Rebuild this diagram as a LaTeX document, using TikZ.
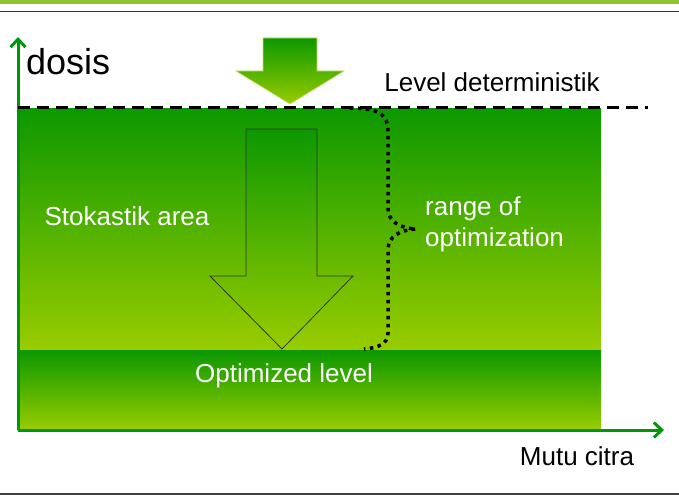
\documentclass[tikz,border=0pt]{standalone}
\usepackage{fontspec}
\setmainfont{Liberation Sans}
\usetikzlibrary{arrows.meta}
\definecolor{gtop}{RGB}{12,152,0}
\definecolor{gbot}{RGB}{153,204,0}
\definecolor{axisg}{RGB}{0,150,10}
\definecolor{band}{RGB}{146,196,50}
\tikzset{
  lbl/.style={font=\fontsize{26}{30}\selectfont, inner sep=0pt},
  wlbl/.style={lbl, text=white},
  axisline/.style={draw=axisg, line width=3pt, -{Straight Barb[length=8pt,width=15pt,line width=3pt]}},
  gradfill/.style={top color=gtop, bottom color=gbot, draw=none},
  arrowfill/.style={top color=gtop, bottom color=gbot, draw=black!80, line width=0.8pt},
}
\begin{document}
\begin{tikzpicture}[x=1pt,y=-1pt]
\useasboundingbox (0,0) rectangle (679,497);
% top and bottom rules
\fill[band] (0,0) rectangle (679,4);
\draw[black!80, line width=1pt] (0,12) -- (679,12);
\draw[black!75, line width=2pt] (0,494) -- (679,494);
% areas
\node[gradfill, minimum width=583pt, minimum height=242pt, anchor=north west, inner sep=0pt] (area) at (18,108) {};
\node[gradfill, minimum width=583pt, minimum height=80pt, anchor=north west, inner sep=0pt] (opt) at (18,350) {};
% top small arrow
\path[top color=gtop, bottom color=gbot, draw=gbot!60!white, line width=0.6pt] (263,38) -- (317,38) -- (317,71) -- (344,71) -- (290,104) -- (236,71) -- (263,71) -- cycle;
% big arrow
\path[arrowfill] (246,129) -- (317,129) -- (317,276) -- (353,276) -- (282,349) -- (210,276) -- (246,276) -- cycle;
% axes
\coordinate (O) at (18,430);
\coordinate (Ytip) at (18,37);
\coordinate (Xtip) at (664,430);
\draw[axisline] (O) -- (Ytip);
\draw[axisline] (O) -- (Xtip);
% dashed level line
\coordinate (d1) at (18,108);
\coordinate (d2) at (648,108);
\draw[black, line width=3pt, dash pattern=on 12pt off 7pt] (d1) -- (d2);
% brace
\draw[black, line width=3.5pt, dash pattern=on 3.5pt off 4.5pt]
  (350,108) .. controls (382,108) and (388,116) .. (388,132) -- (388,208)
  .. controls (388,222) and (400,228) .. (416,229)
  .. controls (400,230) and (388,236) .. (388,250) -- (388,333)
  .. controls (388,344) and (378,348) .. (364,349);
% labels
\node[lbl, font=\fontsize{36}{40}\selectfont, anchor=west] (dosis) at (26,62) {dosis};
\node[lbl] (level) at (492,82) {Level deterministik};
\node[lbl] (mutu) at (577,456) {Mutu citra};
\node[wlbl] (stok) at (127,216) {Stokastik area};
\node[wlbl] (optl) at (284,376) {Optimized level};
\node[wlbl, anchor=west, align=left, font=\fontsize{26}{31}\selectfont] (range) at (425,224) {range of\\optimization};
\end{tikzpicture}
\end{document}
